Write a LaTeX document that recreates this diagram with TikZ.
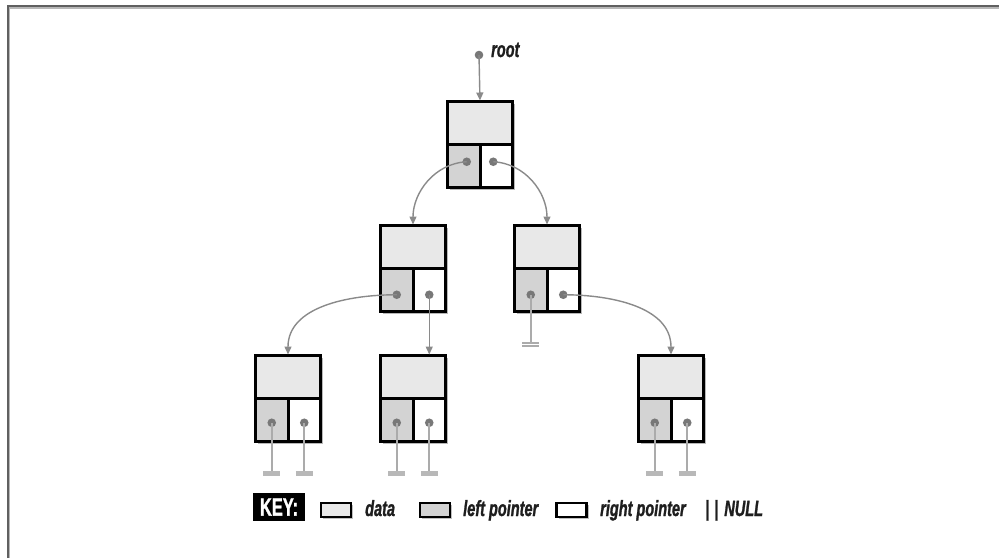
\documentclass[tikz,border=0pt]{standalone}
\usepackage{fontspec}
\setmainfont{Liberation Sans}
\newfontfamily\lblfont[FakeStretch=0.66, FakeBold=1.2]{Liberation Sans}
\usetikzlibrary{arrows.meta,shadows,calc}
\definecolor{datafill}{HTML}{E8E8E8}
\definecolor{leftfill}{HTML}{D3D3D3}
\definecolor{linkc}{HTML}{8A8A8A}
\definecolor{nullc}{HTML}{ABABAB}
\definecolor{dotc}{HTML}{787878}
\definecolor{framec}{HTML}{606060}
\definecolor{txtc}{HTML}{1E1E1E}
\tikzset{
  cell/.style={draw=black, line width=3pt, inner sep=0pt, outer sep=0pt},
  datacell/.style={cell, fill=datafill, minimum width=65pt, minimum height=42.5pt},
  leftcell/.style={cell, fill=leftfill, minimum width=32.5pt, minimum height=43.5pt},
  rightcell/.style={cell, fill=white, minimum width=32.5pt, minimum height=43.5pt},
  boxshadow/.style={fill=white, drop shadow={shadow xshift=2.5pt, shadow yshift=-2.5pt, opacity=0.28, fill=black}},
  link/.style={draw=linkc, line width=1.4pt, -{Triangle[length=8pt,width=7pt]}, shorten >=1pt},
  nullstem/.style={draw=nullc, line width=1.8pt},
  nullbar/.style={draw=nullc, line width=1.8pt},
  nullband/.style={draw=nullc!85, line width=5pt},
  lbl/.style={inner sep=0pt, text=txtc, font=\lblfont\bfseries\itshape\fontsize{22}{22}\selectfont},
  keyrect/.style={draw=black, line width=2.5pt, minimum width=30pt, minimum height=14pt, inner sep=0pt,
     drop shadow={shadow xshift=2pt, shadow yshift=-2pt, opacity=0.25, fill=black}},
  keytag/.style={fill=black, text=white, minimum width=52pt, minimum height=28pt, inner sep=0pt,
     font=\lblfont\bfseries\fontsize{25}{25}\selectfont}
}
% #1 name, #2 centre x (divider), #3 top y, #4 dot inward dx, #5 dot dy
\newcommand\treenode[5]{%
  \path[boxshadow] ({#2-32.5},#3) rectangle ({#2+32.5},{#3+86});
  \node[datacell] (#1-d) at (#2,{#3+21.25}) {};
  \node[leftcell] (#1-l) at ({#2-16.25},{#3+64.25}) {};
  \node[rightcell] (#1-r) at ({#2+16.25},{#3+64.25}) {};
  \coordinate (#1-ld) at ({#2-16.25+#4},{#3+64.25+#5});
  \coordinate (#1-rd) at ({#2+16.25-#4},{#3+64.25+#5});
  \fill[dotc] (#1-ld) circle[radius=4.3pt];
  \fill[dotc] (#1-rd) circle[radius=4.3pt];
}
% double-bar null: #1 dot coordinate, #2 bar offset below dot
\newcommand\nullptr[2]{%
  \path (#1) -- ++(0,{#2}) coordinate (#1-n);
  \draw[nullstem] (#1) -- (#1-n);
  \draw[nullbar] ($(#1-n)+(-8.5,0)$) -- ($(#1-n)+(8.5,0)$);
  \draw[nullbar] ($(#1-n)+(-8.5,3.5)$) -- ($(#1-n)+(8.5,3.5)$);
}
% band null: #1 dot coordinate, #2 band offset below dot
\newcommand\nullband[2]{%
  \path (#1) -- ++(0,{#2}) coordinate (#1-n);
  \draw[nullstem] (#1) -- (#1-n);
  \draw[nullband] ($(#1-n)+(-8.5,2)$) -- ($(#1-n)+(8.5,2)$);
}
\begin{document}
\begin{tikzpicture}[x=1pt,y=-1pt]
\useasboundingbox (0,0) rectangle (999,558);
% frame
\draw[framec!45, line width=1.5pt] (9.5,558) -- (9.5,8) -- (999,8);
\draw[framec, line width=2pt] (7.5,558) -- (7.5,6) -- (999,6);

% tree nodes
\treenode{rt}{480}{101.5}{3}{-4}
\treenode{la}{413}{225.5}{0}{5}
\treenode{ra}{547}{225.5}{0}{5}
\treenode{b1}{288}{355.5}{0}{3}
\treenode{b2}{413}{355.5}{0}{3}
\treenode{b4}{671}{355.5}{0}{3}

% root pointer
\coordinate (rootdot) at (479,55);
\fill[dotc] (rootdot) circle[radius=4.3pt];
\draw[link] (rootdot) -- (rt-d.north);
\node[lbl, anchor=base west] (rootlbl) at (491,57) {root};

% links
\draw[link] (rt-ld) to[out=183,in=90] (la-d.north);
\draw[link] (rt-rd) to[out=-3,in=90] (ra-d.north);
\draw[link] (la-ld) to[out=180,in=90] (b1-d.north);
\draw[link] (la-rd) -- (la-rd |- b2-d.north);
\draw[link] (ra-rd) to[out=0,in=90] (b4-d.north);

% null pointers
\nullptr{ra-ld}{48}
\nullband{b1-ld}{49}
\nullband{b1-rd}{49}
\nullband{b2-ld}{49}
\nullband{b2-rd}{49}
\nullband{b4-ld}{49}
\nullband{b4-rd}{49}

% key
\node[keytag] (key) at (279,507) {KEY:};
\node[keyrect, fill=datafill] (kd) at (336,510) {};
\node[lbl, anchor=base west] (kdl) at (365,516) {data};
\node[keyrect, fill=leftfill] (kl) at (435,510) {};
\node[lbl, anchor=base west] (kll) at (463,516) {left pointer};
\node[keyrect, fill=white] (kr) at (571.5,510) {};
\node[lbl, anchor=base west] (krl) at (600,516) {right pointer};
\node[lbl, anchor=base west] (knl) at (705,516) {|\hspace{5pt}|\hspace{6pt}NULL};
\end{tikzpicture}
\end{document}
